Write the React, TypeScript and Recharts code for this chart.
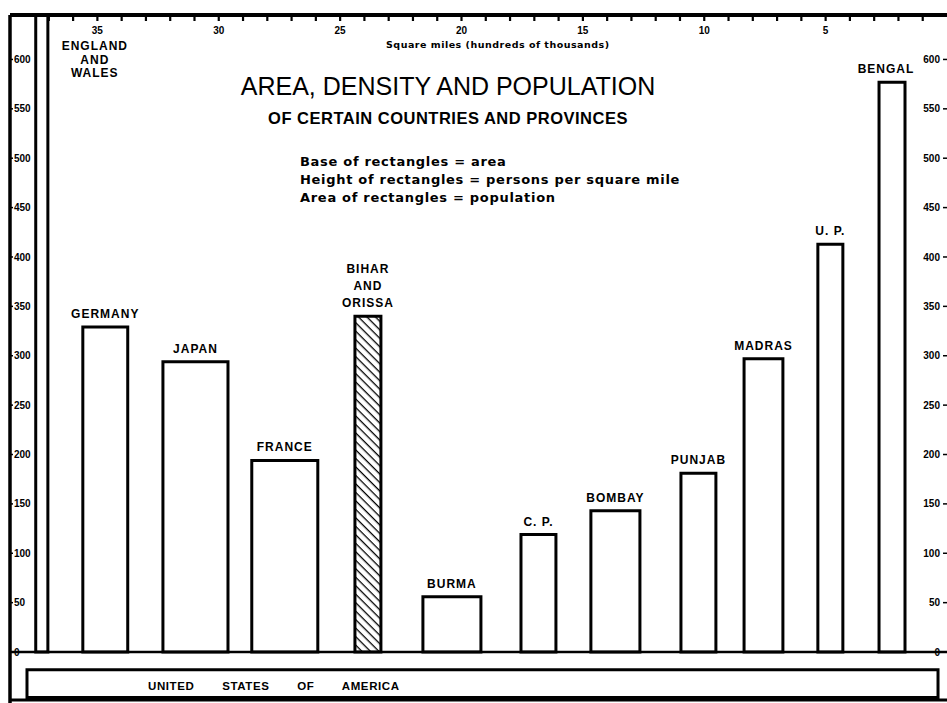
import React from 'react';
import { ScatterChart, XAxis, YAxis, ReferenceArea, ReferenceLine } from 'recharts';

// Each rectangle: right-hand edge on the square-mile scale (hundreds of thousands), width = area, height = persons per sq. mile
const regionNames = [
  'ENGLAND\nAND\nWALES', 'GERMANY', 'JAPAN', 'FRANCE', 'BIHAR\nAND\nORISSA', 'BURMA',
  'C. P.', 'BOMBAY', 'PUNJAB', 'MADRAS', 'U. P.', 'BENGAL',
];
const regionStarts = [37.04, 33.75, 29.62, 25.92, 23.32, 19.2, 16.11, 12.65, 9.52, 6.76, 4.29, 1.73];
const regionAreas = [0.5, 1.85, 2.68, 2.72, 1.07, 2.39, 1.44, 2.02, 1.44, 1.6, 1.03, 1.07];
const regionDensities = [685, 329, 294, 194, 340, 56, 119, 143, 181, 297, 413, 577];
const highlighted = ['BIHAR\nAND\nORISSA'];

const usaName = 'UNITED STATES OF AMERICA';
const usaStart = 0.37;
const usaArea = 37.53;
const usaDensity = 28;

const densityTicks = [0, 50, 100, 150, 200, 250, 300, 350, 400, 450, 500, 550, 600];
const areaTicks = [1, 2, 3, 4, 5, 6, 7, 8, 9, 10, 11, 12, 13, 14, 15, 16, 17, 18, 19, 20, 21, 22, 23, 24, 25, 26, 27, 28, 29, 30, 31, 32, 33, 34, 35, 36, 37];

const X_MAX = 38.6;
const Y_MAX = 645;
const Y_MIN = -51.6;
const USA_GAP = 18;

const FONT = '"Liberation Sans", Arial, sans-serif';
const WIDE = '"DejaVu Sans", Verdana, sans-serif';

const labelShift: Record<string, { dx: number; fromTop?: number; lineH: number }> = {
  'ENGLAND\nAND\nWALES': { dx: 53, fromTop: 75, lineH: 13.5 },
  'BIHAR\nAND\nORISSA': { dx: 0, lineH: 17 },
  BENGAL: { dx: -6, lineH: 16 },
};

const makeLabel = (name: string) => (props: any) => {
  const vb = props.viewBox || {};
  const { x = 0, y = 0, width = 0 } = vb;
  const lines = name.split('\n');
  const cfg = labelShift[name] || { dx: 0, lineH: 16 };
  const cx = x + width / 2 + cfg.dx;
  const firstBaseline =
    cfg.fromTop != null ? y + cfg.fromTop : y - 9 - (lines.length - 1) * cfg.lineH;
  return (
    <text
      textAnchor="middle"
      fontFamily={FONT}
      fontWeight="bold"
      fontSize={12}
      letterSpacing={1}
      fill="#000"
    >
      {lines.map((l, k) => (
        <tspan key={k} x={cx} y={firstBaseline + k * cfg.lineH}>
          {l}
        </tspan>
      ))}
    </text>
  );
};

const usaLabel = (props: any) => {
  const vb = props.viewBox || {};
  const { x = 0, y = 0 } = vb;
  return (
    <text
      x={x + 121}
      y={y + 20}
      fontFamily={FONT}
      fontWeight="bold"
      fontSize={11.5}
      letterSpacing={0.6}
      wordSpacing={24}
      fill="#000"
    >
      {usaName}
    </text>
  );
};

export default function App() {
  const tickStyle = { fill: '#000', fontSize: 10, fontWeight: 'bold', fontFamily: FONT };
  return (
    <div style={{ position: 'absolute', left: 0, top: 0, background: '#fff' }}>
      <ScatterChart
        width={947}
        height={703}
        margin={{ top: 15, right: 0, bottom: 0, left: 10 }}
      >
        <defs>
          <pattern id="hatch" width="6" height="6" patternUnits="userSpaceOnUse" patternTransform="rotate(45)">
            <rect width="6" height="6" fill="#fff" />
            <line x1="0" y1="0" x2="6" y2="0" stroke="#000" strokeWidth="2.6" />
          </pattern>
        </defs>
        <XAxis
          xAxisId="area"
          type="number"
          dataKey="x"
          orientation="top"
          mirror
          reversed
          allowDataOverflow
          domain={[0, X_MAX]}
          ticks={areaTicks}
          interval={0}
          tickFormatter={(v: number) => (v % 5 === 0 ? String(v) : '')}
          tickSize={6}
          tickMargin={6}
          axisLine={false}
          tickLine={{ stroke: '#000', strokeWidth: 2.2 }}
          tick={tickStyle}
        />
        <YAxis
          yAxisId="left"
          type="number"
          dataKey="y"
          orientation="left"
          mirror
          allowDataOverflow
          domain={[Y_MIN, Y_MAX]}
          ticks={densityTicks}
          interval={0}
          tickSize={3}
          tickMargin={1}
          axisLine={false}
          tickLine={{ stroke: '#000', strokeWidth: 1.5 }}
          tick={tickStyle}
        />
        <YAxis
          yAxisId="right"
          type="number"
          dataKey="y"
          orientation="right"
          mirror
          allowDataOverflow
          domain={[Y_MIN, Y_MAX]}
          ticks={densityTicks}
          interval={0}
          tickSize={4}
          tickMargin={3}
          axisLine={false}
          tickLine={{ stroke: '#000', strokeWidth: 1.5 }}
          tick={tickStyle}
        />

        {regionNames.map((name, i) => (
          <ReferenceArea
            key={name}
            xAxisId="area"
            yAxisId="left"
            x1={regionStarts[i] + regionAreas[i]}
            x2={regionStarts[i]}
            y1={0}
            y2={regionDensities[i]}
            ifOverflow="hidden"
            fill={highlighted.includes(name) ? 'url(#hatch)' : '#fff'}
            fillOpacity={1}
            stroke="#000"
            strokeWidth={3}
            label={makeLabel(name)}
          />
        ))}

        <ReferenceArea
          xAxisId="area"
          yAxisId="left"
          x1={usaStart + usaArea}
          x2={usaStart}
          y1={-USA_GAP}
          y2={-USA_GAP - usaDensity}
          ifOverflow="visible"
          fill="#fff"
          fillOpacity={1}
          stroke="#000"
          strokeWidth={3}
          label={usaLabel}
        />

        <ReferenceLine xAxisId="area" yAxisId="left" y={0} stroke="#000" strokeWidth={2.5} ifOverflow="visible" />
        <ReferenceLine xAxisId="area" yAxisId="left" y={Y_MAX} stroke="#000" strokeWidth={4} ifOverflow="visible" />
        <ReferenceLine xAxisId="area" yAxisId="left" y={-48.6} stroke="#000" strokeWidth={3} ifOverflow="visible" />
        <ReferenceLine xAxisId="area" yAxisId="left" x={X_MAX} stroke="#000" strokeWidth={3.5} ifOverflow="visible" />

        <text x={448} y={95} textAnchor="middle" fontFamily={FONT} fontSize={25} fill="#000">
          AREA, DENSITY AND POPULATION
        </text>
        <text x={448} y={124} textAnchor="middle" fontFamily={FONT} fontWeight="bold" fontSize={16.5} letterSpacing={0.5} fill="#000">
          OF CERTAIN COUNTRIES AND PROVINCES
        </text>
        <text x={386} y={48} fontFamily={WIDE} fontWeight="bold" fontSize={9.5} letterSpacing={0.5} fill="#000">
          Square miles (hundreds of thousands)
        </text>
        <text fontFamily={WIDE} fontWeight="bold" fontSize={13} letterSpacing={0.7} fill="#000">
          <tspan x={300} y={166}>Base of rectangles = area</tspan>
          <tspan x={300} y={184}>Height of rectangles = persons per square mile</tspan>
          <tspan x={300} y={202}>Area of rectangles = population</tspan>
        </text>
      </ScatterChart>
    </div>
  );
}
